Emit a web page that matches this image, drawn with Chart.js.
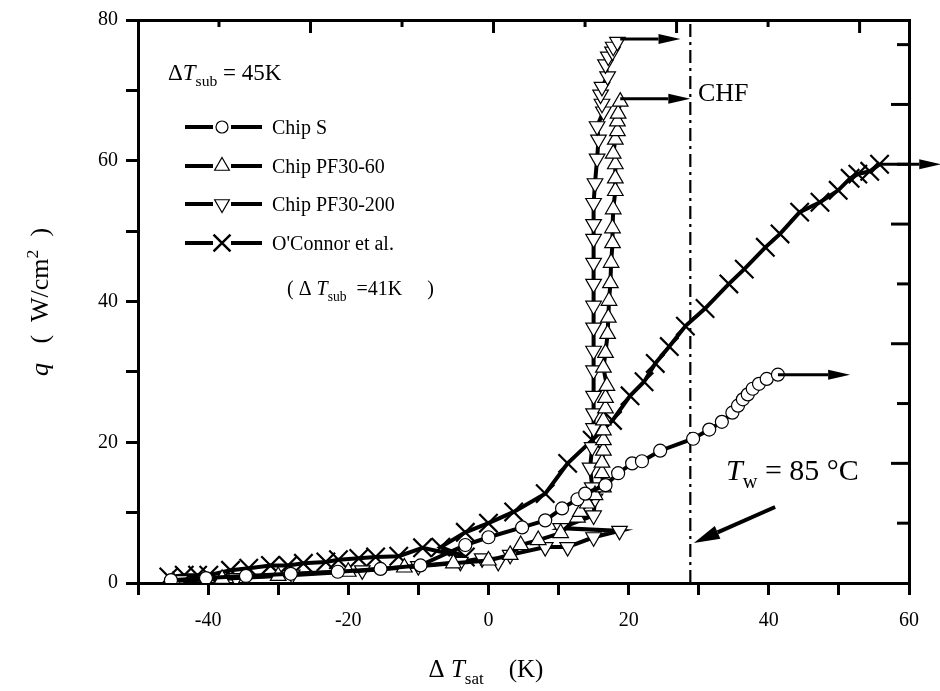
<!DOCTYPE html>
<html>
<head>
<meta charset="utf-8">
<script src="https://cdn.jsdelivr.net/npm/chart.js@4/dist/chart.umd.min.js"></script>
<style>
  html, body { margin: 0; padding: 0; background: #fff; }
</style>
</head>
<body>
<canvas id="chart" width="940" height="691"></canvas>
<script>
// ---- data (x = ΔTsat in K, q in W/cm2) ----
const chipS_x = [-45.3, -40.3, -34.6, -28.2, -21.5, -15.4, -9.7, -3.3, 0, 4.8, 8.1, 10.5, 12.7, 13.8, 16.7, 18.5, 20.5, 21.9, 24.5, 29.2, 31.5, 33.3, 34.8, 35.6, 36.3, 37.0, 37.7, 38.6, 39.7, 41.3]
const chipS_q = [0.4, 0.7, 1.0, 1.3, 1.6, 2.0, 2.5, 5.4, 6.5, 7.9, 8.9, 10.6, 11.9, 12.7, 13.9, 15.6, 17.0, 17.3, 18.8, 20.5, 21.8, 22.9, 24.2, 25.2, 26.1, 26.8, 27.6, 28.3, 29.0, 29.6]

const pf60_x = [-45, -38, -30, -20, -12, -5, 0, 3.1, 4.6, 7.1, 10.3, 12.7, 13.1, 14.1, 15.2, 16.4, 16.2, 16.2, 16.4, 16.4, 16.4, 16.4, 16.7, 16.7, 16.9, 16.4, 16.7, 17.0, 17.1, 17.2, 17.4, 17.5, 17.7, 17.7, 17.8, 18.1, 18.1, 18.1, 17.8, 18.1, 18.4, 18.4, 18.5, 18.8]
const pf60_q = [0.3, 0.6, 1.0, 1.6, 2.2, 2.8, 3.2, 4.0, 5.4, 6.1, 7.1, 9.3, 10.1, 11.3, 12.5, 13.6, 15.6, 17.1, 18.8, 20.3, 21.7, 23.1, 24.8, 26.3, 28.0, 30.6, 32.7, 35.4, 37.7, 40.1, 42.6, 45.5, 48.3, 50.4, 53.1, 55.7, 57.5, 59.5, 61.0, 63.0, 64.2, 65.6, 66.7, 68.4]

const pf200_x = [-44, -36, -28, -18, -10, -4, -0.9, 1.4, 3.1, 8.1, 11.3, 15.0, 18.7, 10.3, 15.0, 15.2, 14.8, 14.5, 14.8, 15.0, 15.0, 15.0, 15.0, 15.0, 15.0, 15.0, 15.0, 15.0, 15.0, 15.0, 15.0, 15.2, 15.5, 15.7, 15.5, 16.4, 16.2, 16.0, 16.2, 17.0, 16.7, 17.1, 17.7, 17.8, 18.4]
const pf200_q = [0.4, 0.7, 1.2, 1.8, 2.4, 3.0, 3.5, 3.0, 4.0, 5.1, 5.1, 6.5, 7.4, 7.8, 9.6, 12.0, 13.6, 16.4, 19.3, 22.0, 24.1, 26.6, 30.2, 33.0, 36.3, 39.4, 42.5, 45.5, 48.9, 51.0, 54.0, 56.8, 60.3, 63.0, 64.9, 67.0, 68.1, 69.4, 70.5, 72.0, 73.7, 74.8, 75.5, 76.2, 76.9]

const oconnor_x = [-45.6, -43.4, -41.5, -39.9, -36.8, -34.2, -31.1, -28.6, -26.4, -23.2, -21.4, -18.5, -16.1, -12.8, -9.4, -3.3, -6.8, -3.3, 0, 3.6, 8.1, 11.3, 14.8, 17.7, 20.2, 22.2, 23.8, 25.8, 28.1, 30.9, 34.3, 36.5, 39.5, 41.6, 44.4, 47.3, 49.9, 51.6, 52.7, 54.4, 55.8]
const oconnor_q = [0.85, 1.1, 1.1, 1.1, 1.8, 2.1, 2.5, 2.5, 2.8, 3.0, 3.3, 3.5, 3.7, 3.8, 5.0, 3.7, 5.1, 7.2, 8.5, 10.1, 12.7, 17.0, 20.3, 23.1, 26.6, 28.6, 31.2, 33.6, 36.5, 39.0, 42.5, 44.6, 47.7, 49.6, 52.7, 54.1, 55.8, 57.5, 58.1, 58.5, 59.5]

const chfX = 28.8
// arrows: [x1, q1, x2, q2]
const arrows = [
  [18.8, 77.3, 27.4, 77.3],
  [18.8, 68.8, 28.8, 68.8],
  [41.3, 29.6, 51.6, 29.6],
  [55.8, 59.5, 64.6, 59.5]
]
const twArrow = [40.9, 10.8, 29.3, 5.7]

const pts = (xs, ys) => xs.map((x, i) => ({x: x, y: ys[i]}))
const FONT = "'Liberation Serif', 'Times New Roman', serif"

function richText(ctx, x, y, parts, size) {
  let cx = x
  for (const [t, s] of parts) {
    const small = s === 'sub' || s === 'sup'
    const fs = small ? size * 0.68 : size
    ctx.font = (s === 'i' ? 'italic ' : '') + fs + 'px ' + FONT
    const dy = s === 'sub' ? size * 0.28 : s === 'sup' ? -size * 0.4 : 0
    ctx.fillText(t, cx, y + dy)
    cx += ctx.measureText(t).width
  }
  return cx - x
}

function measureRich(ctx, parts, size) {
  let w = 0
  for (const [t, s] of parts) {
    const small = s === 'sub' || s === 'sup'
    ctx.font = (s === 'i' ? 'italic ' : '') + (small ? size * 0.68 : size) + 'px ' + FONT
    w += ctx.measureText(t).width
  }
  return w
}

function arrow(ctx, x1, y1, x2, y2, lw, hl, hw) {
  const a = Math.atan2(y2 - y1, x2 - x1)
  const bx = x2 - Math.cos(a) * hl, by = y2 - Math.sin(a) * hl
  ctx.lineWidth = lw
  ctx.beginPath(); ctx.moveTo(x1, y1); ctx.lineTo(bx, by); ctx.stroke()
  ctx.beginPath()
  ctx.moveTo(x2, y2)
  ctx.lineTo(bx + Math.sin(a) * hw, by - Math.cos(a) * hw)
  ctx.lineTo(bx - Math.sin(a) * hw, by + Math.cos(a) * hw)
  ctx.closePath(); ctx.fill()
}

const decor = {
  id: 'decor',
  afterDatasetsDraw(chart) {
    const {ctx, chartArea: a, scales} = chart
    const sx = scales.x, sy = scales.y
    ctx.save()
    ctx.strokeStyle = '#000'; ctx.fillStyle = '#000'
    // inward ticks on the top and right frame
    ctx.lineWidth = 3
    scales.xt.ticks.forEach(t => {
      if (!Number.isInteger(t.value)) return
      const px = scales.xt.getPixelForValue(t.value)
      const len = t.value % 2 ? 13 : 7
      ctx.beginPath(); ctx.moveTo(px, a.top); ctx.lineTo(px, a.top + len); ctx.stroke()
    })
    scales.yr.ticks.forEach(t => {
      const k = Math.round(t.value / 8.5)
      if (k <= 0 || t.value >= 80) return
      const py = scales.yr.getPixelForValue(t.value)
      const len = k % 2 ? 12 : 18
      ctx.beginPath(); ctx.moveTo(a.right, py); ctx.lineTo(a.right - len, py); ctx.stroke()
    })
    // arrows
    arrows.forEach(r => arrow(ctx, sx.getPixelForValue(r[0]), sy.getPixelForValue(r[1]),
      sx.getPixelForValue(r[2]), sy.getPixelForValue(r[3]), 3, 22, 5))
    arrow(ctx, sx.getPixelForValue(twArrow[0]), sy.getPixelForValue(twArrow[1]),
      sx.getPixelForValue(twArrow[2]), sy.getPixelForValue(twArrow[3]), 4, 26, 7)
    ctx.restore()
  },
  afterDraw(chart) {
    const {ctx} = chart
    ctx.save()
    ctx.fillStyle = '#000'; ctx.strokeStyle = '#000'
    ctx.textBaseline = 'alphabetic'; ctx.textAlign = 'left'
    // annotations
    richText(ctx, 168, 80, [['Δ', ''], ['T', 'i'], ['sub', 'sub'], [' = 45K', '']], 23)
    richText(ctx, 698, 101, [['CHF', '']], 26)
    richText(ctx, 726, 480, [['T', 'i'], ['w', 'sub'], [' = 85 °C', '']], 30)

    // legend
    const rows = [
      ['Chip S', {pointStyle: 'circle', radius: 6, rotation: 0}, 127],
      ['Chip PF30-60', {pointStyle: 'triangle', radius: 8.5, rotation: 0}, 166],
      ['Chip PF30-200', {pointStyle: 'triangle', radius: 8.5, rotation: 180}, 204],
      ["O'Connor et al.", {pointStyle: 'crossRot', radius: 12, rotation: 0}, 243]
    ]
    rows.forEach(([label, st, y]) => {
      ctx.lineWidth = 4
      ctx.beginPath(); ctx.moveTo(185, y); ctx.lineTo(262, y); ctx.stroke()
      ctx.fillStyle = '#fff'
      ctx.beginPath(); ctx.rect(213, y - 4, 18, 8); ctx.fill()
      ctx.lineWidth = st.pointStyle === 'crossRot' ? 2.5 : 1.2
      Chart.helpers.drawPoint(ctx, Object.assign({borderWidth: ctx.lineWidth}, st), 222, y)
      ctx.fillStyle = '#000'
      richText(ctx, 272, y + 7, [[label, '']], 20)
    })
    richText(ctx, 287, 295, [['( Δ ', ''], ['T', 'i'], ['sub', 'sub'], ['  =41K     )', '']], 20)

    // axis titles
    const xt = [['Δ ', ''], ['T', 'i'], ['sat', 'sub'], ['    (K)', '']]
    const wx = measureRich(ctx, xt, 25)
    richText(ctx, 486 - wx / 2, 677, xt, 25)
    const yt = [['q', 'i'], ['   (  W/cm', ''], ['2', 'sup'], ['  )', '']]
    ctx.translate(48, 302)
    ctx.rotate(-Math.PI / 2)
    const wy = measureRich(ctx, yt, 26)
    richText(ctx, -wy / 2, 0, yt, 26)
    ctx.restore()
  }
}

const seriesLine = {showLine: true, borderColor: '#000', borderWidth: 4, tension: 0,
  pointBorderColor: '#000', pointBackgroundColor: '#fff', pointBorderWidth: 1.2}

new Chart(document.getElementById('chart'), {
  type: 'scatter',
  data: {
    datasets: [
      Object.assign({label: 'Chip S', data: pts(chipS_x, chipS_q), pointStyle: 'circle', pointRadius: 6.5, order: 1}, seriesLine),
      Object.assign({label: 'Chip PF30-60', data: pts(pf60_x, pf60_q), pointStyle: 'triangle', pointRadius: 9, order: 2}, seriesLine),
      Object.assign({label: 'Chip PF30-200', data: pts(pf200_x, pf200_q), pointStyle: 'triangle', pointRotation: 180, pointRadius: 9, order: 3}, seriesLine),
      Object.assign({label: "O'Connor et al.", data: pts(oconnor_x, oconnor_q), pointStyle: 'crossRot', pointRadius: 13, order: 4}, seriesLine, {pointBorderWidth: 2.2}),
      {label: 'CHF', data: [{x: chfX, y: 0}, {x: chfX, y: 80}], showLine: true, borderColor: '#000', borderWidth: 2.2,
        borderDash: [13, 5, 3, 5], pointRadius: 0, order: 5}
    ]
  },
  options: {
    responsive: false,
    animation: false,
    devicePixelRatio: 1,
    layout: {padding: {top: 18, right: 31, left: 0, bottom: 0}},
    plugins: {legend: {display: false}, tooltip: {enabled: false}},
    scales: {
      x: {
        type: 'linear', position: 'bottom', min: -50, max: 60,
        afterFit: s => { s.height = 108 },
        ticks: {stepSize: 10, autoSkip: false, maxRotation: 0, color: '#000', padding: 14,
          font: {family: FONT, size: 20}, callback: v => v % 20 === 0 ? String(v) : ''},
        grid: {drawOnChartArea: false, drawTicks: true, tickLength: 12, color: '#000', lineWidth: 3},
        border: {display: true, color: '#000', width: 3}
      },
      y: {
        type: 'linear', position: 'left', min: 0, max: 80,
        afterFit: s => { s.width = 138 },
        ticks: {stepSize: 10, autoSkip: false, color: '#000', padding: 8,
          font: {family: FONT, size: 20}, callback: v => v % 20 === 0 ? String(v) : ''},
        grid: {drawOnChartArea: false, drawTicks: true, tickLength: 12, color: '#000', lineWidth: 3},
        border: {display: true, color: '#000', width: 3}
      },
      xt: {
        type: 'linear', position: 'top', min: -0.885, max: 7.54,
        afterFit: s => { s.height = 0 },
        ticks: {display: false, stepSize: 1},
        grid: {drawOnChartArea: false, drawTicks: false},
        border: {display: true, color: '#000', width: 3}
      },
      yr: {
        type: 'linear', position: 'right', min: 0, max: 80,
        afterFit: s => { s.width = 0 },
        ticks: {display: false, stepSize: 8.5},
        grid: {drawOnChartArea: false, drawTicks: false},
        border: {display: true, color: '#000', width: 3}
      }
    }
  },
  plugins: [decor]
})
</script>
</body>
</html>
